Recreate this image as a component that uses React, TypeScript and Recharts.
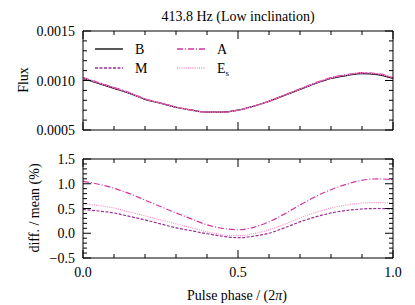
import { LineChart, Line, XAxis, YAxis } from 'recharts'

const phase = [0, 0.05, 0.1, 0.15, 0.2, 0.25, 0.3, 0.35, 0.4, 0.45, 0.5, 0.55, 0.6, 0.65, 0.7, 0.75, 0.8, 0.85, 0.9, 0.95, 1.0]

const fluxB = [0.00102, 0.00097, 0.00092, 0.00087, 0.00081, 0.00077, 0.00073, 0.0007, 0.00068, 0.00068, 0.0007, 0.00074, 0.00079, 0.00085, 0.00091, 0.00097, 0.00102, 0.00105, 0.00107, 0.00106, 0.00102]
const fluxM = [0.001025, 0.000975, 0.000925, 0.000873, 0.000812, 0.000771, 0.000731, 0.0007, 0.00068, 0.00068, 0.000699, 0.00074, 0.00079, 0.000851, 0.000912, 0.000973, 0.001024, 0.001055, 0.001075, 0.001065, 0.001025]
const fluxA = [0.00103, 0.00098, 0.00093, 0.000877, 0.000815, 0.000774, 0.000733, 0.000702, 0.000681, 0.000681, 0.000701, 0.000741, 0.000792, 0.000853, 0.000915, 0.000977, 0.001029, 0.00106, 0.00108, 0.00107, 0.00103]
const fluxEs = [0.001026, 0.000975, 0.000925, 0.000874, 0.000813, 0.000772, 0.000731, 0.000701, 0.00068, 0.00068, 0.0007, 0.00074, 0.00079, 0.000852, 0.000913, 0.000974, 0.001025, 0.001056, 0.001077, 0.001066, 0.001026]

const diffM = [0.48, 0.45, 0.41, 0.34, 0.27, 0.19, 0.11, 0.05, -0.01, -0.06, -0.09, -0.06, 0.0, 0.11, 0.23, 0.33, 0.41, 0.46, 0.49, 0.5, 0.49]
const diffA = [1.05, 0.99, 0.91, 0.8, 0.67, 0.54, 0.41, 0.29, 0.17, 0.1, 0.07, 0.12, 0.23, 0.39, 0.57, 0.74, 0.88, 0.99, 1.07, 1.1, 1.08]
const diffEs = [0.6, 0.56, 0.51, 0.43, 0.35, 0.27, 0.19, 0.11, 0.03, -0.03, -0.05, -0.01, 0.07, 0.18, 0.31, 0.42, 0.51, 0.57, 0.61, 0.62, 0.61]

const xTicks = [0, 0.1, 0.2, 0.3, 0.4, 0.5, 0.6, 0.7, 0.8, 0.9, 1.0]
const xMajor = [0, 0.5, 1.0]
const fluxTicks = [0.0005, 0.0006, 0.0007, 0.0008, 0.0009, 0.001, 0.0011, 0.0012, 0.0013, 0.0014, 0.0015]
const fluxMajor = [0.0005, 0.001, 0.0015]
const diffTicks = [-0.5, -0.4, -0.3, -0.2, -0.1, 0, 0.1, 0.2, 0.3, 0.4, 0.5, 0.6, 0.7, 0.8, 0.9, 1.0, 1.1, 1.2, 1.3, 1.4, 1.5]
const diffMajor = [-0.5, 0, 0.5, 1.0, 1.5]

const series = [
  { key: 'B', color: '#000000', dash: undefined as string | undefined },
  { key: 'M', color: '#9a3096', dash: '3 1.5' },
  { key: 'A', color: '#d4349c', dash: '6 2 1 2' },
  { key: 'Es', color: '#ff8cc6', dash: '1 1.2' },
]

const fluxRows = phase.map((p, i) => ({ p, B: fluxB[i], M: fluxM[i], A: fluxA[i], Es: fluxEs[i] }))
const diffRows = phase.map((p, i) => ({ p, M: diffM[i], A: diffA[i], Es: diffEs[i] }))

const FONT = 'Liberation Serif, Times New Roman, serif'

const isIn = (list: number[], v: number) => list.some(m => Math.abs(m - v) < 1e-9)
const fmtNum = (v: number, d: number) => (v < 0 ? '\u2212' + Math.abs(v).toFixed(d) : v.toFixed(d))

function makeTick(side: string, majors: number[], label?: (v: number) => string) {
  return (props: any) => {
    const { x, y, payload } = props
    const v = payload.value
    const major = isIn(majors, v)
    const len = major ? 8 : 4
    let line
    let text = null
    if (side === 'bottom') {
      line = <line x1={x} y1={y} x2={x} y2={y - len} stroke="#000" />
      if (label && major) text = <text x={x} y={y + 19} textAnchor="middle" fontSize={14} fontFamily={FONT} fill="#000">{label(v)}</text>
    } else if (side === 'top') {
      line = <line x1={x} y1={y} x2={x} y2={y + len} stroke="#000" />
    } else if (side === 'left') {
      line = <line x1={x} y1={y} x2={x + len} y2={y} stroke="#000" />
      if (label && major) text = <text x={x - 8} y={y + 5} textAnchor="end" fontSize={14} fontFamily={FONT} fill="#000">{label(v)}</text>
    } else {
      line = <line x1={x} y1={y} x2={x - len} y2={y} stroke="#000" />
    }
    return <g>{line}{text}</g>
  }
}

// tickSize/tickMargin 0 so the custom tick gets the axis-line position
function Frame({ yTicks, yMajor, yDomain, yLabel, xLabels }: any) {
  return [
    <XAxis key="xb" xAxisId="b" dataKey="p" type="number" domain={[0, 1]} ticks={xTicks} interval={0} height={1} tickSize={0} tickMargin={0} axisLine={{ stroke: '#000' }} tickLine={false} tick={makeTick('bottom', xMajor, xLabels ? (v: number) => v.toFixed(1) : undefined)} />,
    <XAxis key="xt" xAxisId="t" orientation="top" dataKey="p" type="number" domain={[0, 1]} ticks={xTicks} interval={0} height={1} tickSize={0} tickMargin={0} axisLine={{ stroke: '#000' }} tickLine={false} tick={makeTick('top', xMajor)} />,
    <YAxis key="yl" yAxisId="l" type="number" domain={yDomain} ticks={yTicks} interval={0} width={83} tickSize={0} tickMargin={0} axisLine={{ stroke: '#000' }} tickLine={false} allowDataOverflow tick={makeTick('left', yMajor, yLabel)} />,
    <YAxis key="yr" yAxisId="r" orientation="right" type="number" domain={yDomain} ticks={yTicks} interval={0} width={1} tickSize={0} tickMargin={0} axisLine={{ stroke: '#000' }} tickLine={false} allowDataOverflow tick={makeTick('right', yMajor)} />,
  ]
}

function Overlay() {
  const pos = [
    { x: 95, y: 49 },
    { x: 95, y: 68 },
    { x: 177, y: 49 },
    { x: 177, y: 68 },
  ]
  return (
    <svg width={415} height={305} style={{ position: 'absolute', left: 0, top: 0, pointerEvents: 'none' }} fontFamily={FONT}>
      <text x={238} y={21} textAnchor="middle" fontSize={14} fill="#000">413.8 Hz (Low inclination)</text>
      <text transform="translate(28,80) rotate(-90)" textAnchor="middle" fontSize={14} fill="#000">Flux</text>
      <text transform="translate(39,208) rotate(-90)" textAnchor="middle" fontSize={14} fill="#000">diff. / mean (%)</text>
      <text x={237} y={300} textAnchor="middle" fontSize={14} fill="#000">Pulse phase / (2<tspan fontStyle="italic">π</tspan>)</text>
      {series.map((s, i) => (
        <g key={s.key}>
          <line x1={pos[i].x} y1={pos[i].y} x2={pos[i].x + 28} y2={pos[i].y} stroke={s.color} strokeWidth={1.3} strokeDasharray={s.dash} />
          <text x={pos[i].x + 40} y={pos[i].y + 5} fontSize={14} fill="#000">
            {s.key === 'Es' ? <>E<tspan fontSize={9} dy={3}>s</tspan></> : s.key}
          </text>
        </g>
      ))}
    </svg>
  )
}

export default function App() {
  return (
    <div style={{ position: 'absolute', left: 0, top: 0, width: 415, height: 305, background: '#fff' }}>
      <div style={{ position: 'absolute', left: 0, top: 0, width: 415, height: 145 }}>
        <LineChart width={415} height={145} data={fluxRows} margin={{ top: 30, right: 21, bottom: 14, left: 0 }}>
          {Frame({ yTicks: fluxTicks, yMajor: fluxMajor, yDomain: [0.0005, 0.0015], yLabel: (v: number) => v.toFixed(4), xLabels: false })}
          {series.map(s => (
            <Line key={s.key} xAxisId="b" yAxisId="l" dataKey={s.key} type="monotone" dot={false} stroke={s.color} strokeWidth={1.2} strokeDasharray={s.dash} isAnimationActive={false} />
          ))}
        </LineChart>
      </div>
      <div style={{ position: 'absolute', left: 0, top: 145, width: 415, height: 160 }}>
        <LineChart width={415} height={160} data={diffRows} margin={{ top: 13, right: 21, bottom: 46, left: 0 }}>
          {Frame({ yTicks: diffTicks, yMajor: diffMajor, yDomain: [-0.5, 1.5], yLabel: (v: number) => fmtNum(v, 1), xLabels: true })}
          {series.filter(s => s.key !== 'B').map(s => (
            <Line key={s.key} xAxisId="b" yAxisId="l" dataKey={s.key} type="monotone" dot={false} stroke={s.color} strokeWidth={1.2} strokeDasharray={s.dash} isAnimationActive={false} />
          ))}
        </LineChart>
      </div>
      <Overlay />
    </div>
  )
}
